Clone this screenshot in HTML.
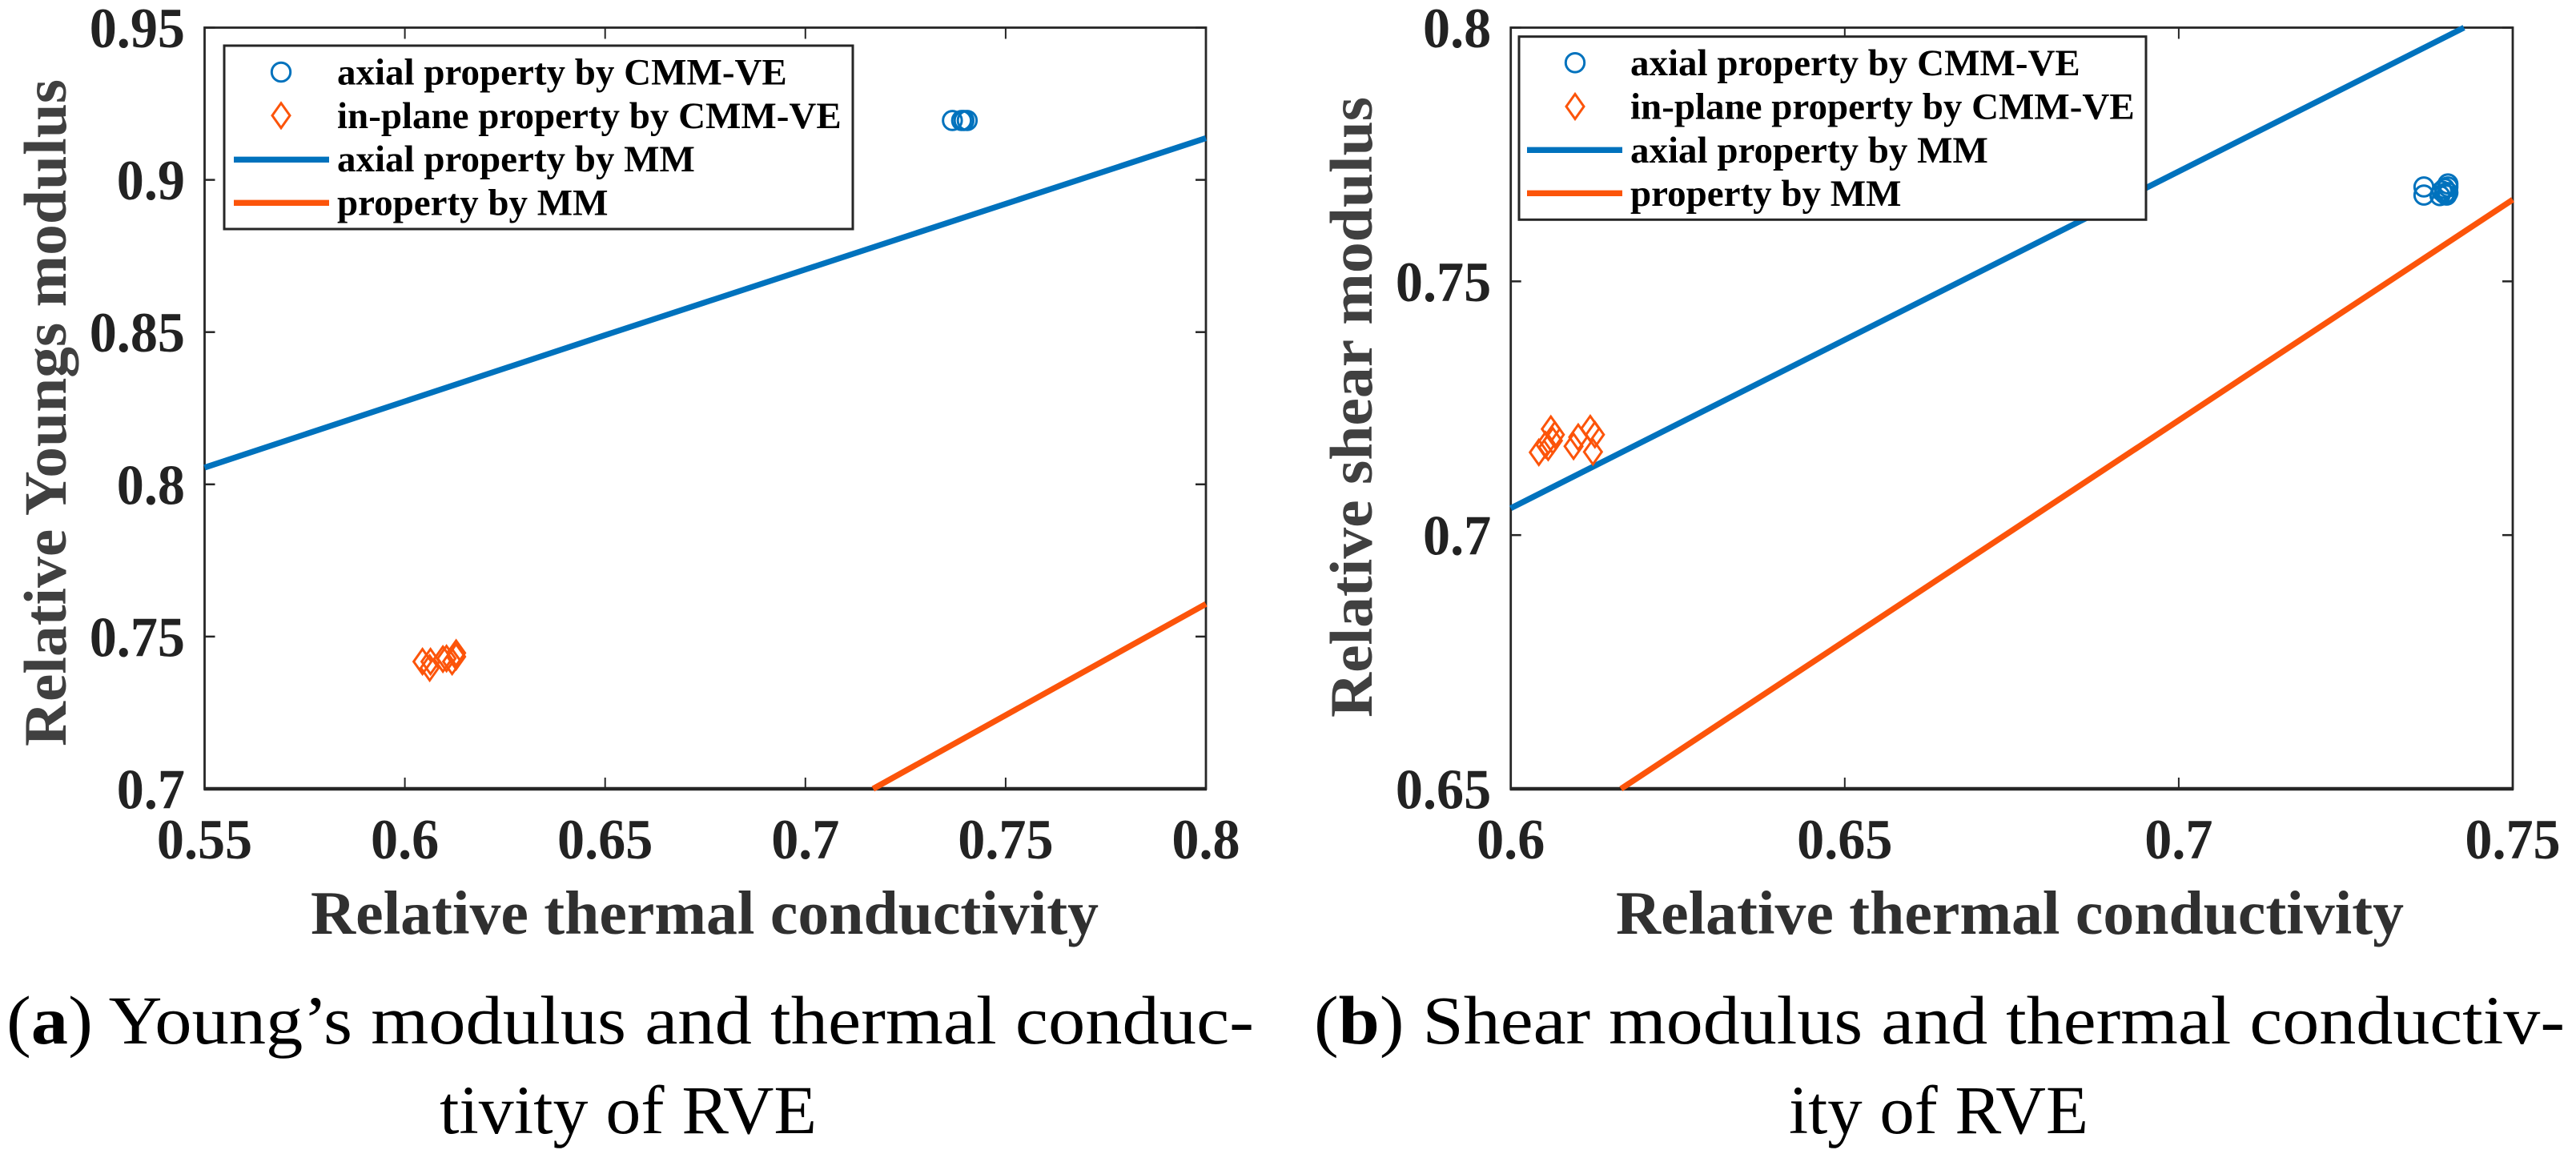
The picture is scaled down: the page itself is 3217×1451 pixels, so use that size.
<!DOCTYPE html>
<html lang="en">
<head>
<meta charset="utf-8">
<title>Relative moduli versus relative thermal conductivity</title>
<style>
  html, body { margin: 0; padding: 0; background: #fff; }
  svg { display: block; }
  text { font-family: "Liberation Serif", serif; }
  .tick-label { font-weight: bold; font-size: 71px; fill: #222222; }
  .axis-title { font-weight: bold; font-size: 77px; fill: #303030; }
  .y-title { font-size: 75px; fill: #404040; }
  .legend-text { font-weight: bold; font-size: 47px; fill: #000; }
  .caption { font-size: 86px; fill: #000; }
</style>
</head>
<body>
<svg id="figure" xmlns="http://www.w3.org/2000/svg" width="3217" height="1451" viewBox="0 0 3217 1451">
  <rect x="0" y="0" width="3217" height="1451" fill="#ffffff"/>
  <g id="panel-a"></g>
  <g id="panel-b"></g>
  <text class="caption" x="8" y="1303" textLength="1558" lengthAdjust="spacingAndGlyphs">(<tspan font-weight="bold">a</tspan>) Young’s modulus and thermal conduc-</text>
  <text class="caption" x="549" y="1415" textLength="471" lengthAdjust="spacingAndGlyphs">tivity of RVE</text>
  <text class="caption" x="1641" y="1303" textLength="1562" lengthAdjust="spacingAndGlyphs">(<tspan font-weight="bold">b</tspan>) Shear modulus and thermal conductiv-</text>
  <text class="caption" x="2234" y="1415" textLength="374" lengthAdjust="spacingAndGlyphs">ity of RVE</text>
</svg>
<script>
// Legend labels
var legendLabels = ['axial property by CMM-VE', 'in-plane property by CMM-VE', 'axial property by MM', 'property by MM'];

// Panel (a) values
var aXTicks = [0.55, 0.6, 0.65, 0.7, 0.75, 0.8];
var aYTicks = [0.7, 0.75, 0.8, 0.85, 0.9, 0.95];
var aXTickLabels = ['0.55', '0.6', '0.65', '0.7', '0.75', '0.8'];
var aYTickLabels = ['0.7', '0.75', '0.8', '0.85', '0.9', '0.95'];
var aAxialMmX = [0.55, 0.65, 0.8];
var aAxialMmY = [0.8055, 0.849, 0.9137];
var aPlaneMmX = [0.7169, 0.8];
var aPlaneMmY = [0.7, 0.7607];
var aAxialVeX = [0.7367, 0.739, 0.7396, 0.7404];
var aAxialVeY = [0.9195, 0.9195, 0.9195, 0.9195];
var aPlaneVeX = [0.6044, 0.6064, 0.6062, 0.6095, 0.6104, 0.6118, 0.6128, 0.6128];
var aPlaneVeY = [0.7418, 0.7418, 0.7397, 0.7426, 0.7428, 0.7418, 0.7446, 0.7434];

// Panel (b) values
var bXTicks = [0.6, 0.65, 0.7, 0.75];
var bYTicks = [0.65, 0.7, 0.75, 0.8];
var bXTickLabels = ['0.6', '0.65', '0.7', '0.75'];
var bYTickLabels = ['0.65', '0.7', '0.75', '0.8'];
var bAxialMmX = [0.6, 0.7427];
var bAxialMmY = [0.7053, 0.8];
var bPlaneMmX = [0.6165, 0.75];
var bPlaneMmY = [0.65, 0.7661];
var bAxialVeX = [0.7367, 0.7367, 0.7391, 0.7394, 0.7398, 0.7403, 0.7403, 0.7401, 0.7398, 0.7403];
var bAxialVeY = [0.7686, 0.767, 0.7669, 0.7678, 0.7683, 0.7692, 0.7675, 0.767, 0.7673, 0.7686];
var bPlaneVeX = [0.6042, 0.6056, 0.6052, 0.606, 0.6066, 0.6063, 0.6094, 0.6101, 0.6119, 0.6126, 0.6123];
var bPlaneVeY = [0.7163, 0.7173, 0.7178, 0.7209, 0.7198, 0.7186, 0.7175, 0.7193, 0.721, 0.7198, 0.7164];

var SVG_NS = 'http://www.w3.org/2000/svg';
var BLUE = '#0072bd';
var ORANGE = '#fc540a';
var DARK = '#262626';

function shape(parent, tag, attrs) {
  var el = document.createElementNS(SVG_NS, tag);
  for (var k in attrs) { el.setAttribute(k, attrs[k]); }
  parent.appendChild(el);
  return el;
}

function linearScale(d0, d1, r0, r1) {
  return function (v) { return r0 + (v - d0) * (r1 - r0) / (d1 - d0); };
}

function circleAt(parent, cx, cy) {
  return shape(parent, 'ellipse', { cx: cx, cy: cy, rx: 11.7, ry: 11.8, fill: 'none', stroke: BLUE, 'stroke-width': 3 });
}

function diamondAt(parent, cx, cy) {
  var pts = [(cx - 11) + ',' + cy, cx + ',' + (cy - 15.5), (cx + 11) + ',' + cy, cx + ',' + (cy + 15.5)].join(' ');
  return shape(parent, 'polygon', { points: pts, fill: 'none', stroke: ORANGE, 'stroke-width': 3 });
}

function narrowTickText(el) {
  el.setAttribute('textLength', el.getComputedTextLength() * 0.96);
  el.setAttribute('lengthAdjust', 'spacingAndGlyphs');
}

function drawPanel(c) {
  var g = document.getElementById(c.id);
  var x = linearScale(c.xMin, c.xMax, c.left, c.right);
  var y = linearScale(c.yMin, c.yMax, c.bottom, c.top);

  // Axes box
  var box = shape(g, 'rect', { x: c.left, y: c.top, width: c.right - c.left, height: c.bottom - c.top, fill: 'none', stroke: DARK, 'stroke-width': 2.8 });
  
  
  var base = shape(g, 'line', { x1: c.left - 1, x2: c.right + 1, y1: c.bottom, y2: c.bottom, stroke: DARK, 'stroke-width': 4.5 });
  
  

  // Ticks and tick labels
  c.xTicks.forEach(function (v, i) {
    var px = x(v);
    var tb = shape(g, 'line', { x1: px, x2: px, y1: c.bottom, y2: c.bottom - 14, stroke: DARK, 'stroke-width': 2 });
    
    
    var tt = shape(g, 'line', { x1: px, x2: px, y1: c.top, y2: c.top + 14, stroke: DARK, 'stroke-width': 2 });
    
    
    var lab = shape(g, 'text', { x: px, y: 1072, 'text-anchor': 'middle', 'class': 'tick-label' });
    
    
    lab.textContent = c.xTickLabels[i];
    narrowTickText(lab);
  });
  c.yTicks.forEach(function (v, i) {
    var py = y(v);
    var tl = shape(g, 'line', { x1: c.left, x2: c.left + 13, y1: py, y2: py, stroke: DARK, 'stroke-width': 2.5 });
    
    
    var tr = shape(g, 'line', { x1: c.right, x2: c.right - 13, y1: py, y2: py, stroke: DARK, 'stroke-width': 2.5 });
    
    
    var lab = shape(g, 'text', { x: c.left - 24.5, y: py + 24.5, 'text-anchor': 'end', 'class': 'tick-label' });
    
    
    lab.textContent = c.yTickLabels[i];
    narrowTickText(lab);
  });

  // Axis titles
  var xt = shape(g, 'text', { x: c.xTitleX, y: 1166, textLength: c.xTitleLen, lengthAdjust: 'spacingAndGlyphs', 'class': 'axis-title' });
  
  
  xt.textContent = 'Relative thermal conductivity';
  var yt = shape(g, 'text', { x: 0, y: 0, textLength: c.yTitleLen, lengthAdjust: 'spacingAndGlyphs', 'class': 'axis-title y-title', transform: 'translate(' + c.yTitleX + ',' + c.yTitleY + ') rotate(-90)' });
  
  
  yt.textContent = c.yTitle;

  // Model lines
  var lineAxial = shape(g, 'polyline', { points: c.axialMmX.map(function (v, i) { return x(v) + ',' + y(c.axialMmY[i]); }).join(' '), fill: 'none', stroke: BLUE, 'stroke-width': 7.3 });
  
  
  var linePlane = shape(g, 'polyline', { points: c.planeMmX.map(function (v, i) { return x(v) + ',' + y(c.planeMmY[i]); }).join(' '), fill: 'none', stroke: ORANGE, 'stroke-width': 7.3 });
  
  

  // Scatter markers
  c.axialVeX.forEach(function (v, i) {
    var m = circleAt(g, x(v), y(c.axialVeY[i]));
    
    
  });
  c.planeVeX.forEach(function (v, i) {
    var m = diamondAt(g, x(v), y(c.planeVeY[i]));
    
    
  });

  // Legend
  var L = c.legend;
  var lg = shape(g, 'g', {});
  
  
  var lbox = shape(lg, 'rect', { x: L.x, y: L.y, width: L.w, height: L.h, fill: '#ffffff', stroke: DARK, 'stroke-width': 3 });
  
  
  var c1 = circleAt(lg, L.markerX, L.circleY);
  
  
  var d1 = diamondAt(lg, L.markerX, L.diamondY);
  
  
  var h1 = shape(lg, 'line', { x1: L.handleX1, x2: L.handleX2, y1: L.blueY, y2: L.blueY, stroke: BLUE, 'stroke-width': 7.3 });
  
  
  var h2 = shape(lg, 'line', { x1: L.handleX1, x2: L.handleX2, y1: L.orangeY, y2: L.orangeY, stroke: ORANGE, 'stroke-width': 7.3 });
  
  
  legendLabels.forEach(function (t, i) {
    var tx = shape(lg, 'text', { x: L.textX, y: L.firstRow + i * L.rowStep, 'class': 'legend-text' });
    
    
    tx.textContent = t;
  });
}

drawPanel({
  id: 'panel-a', left: 255.5, right: 1506, top: 34.5, bottom: 985,
  xMin: 0.55, xMax: 0.8, yMin: 0.7, yMax: 0.95,
  xTicks: aXTicks, yTicks: aYTicks, xTickLabels: aXTickLabels, yTickLabels: aYTickLabels,
  axialMmX: aAxialMmX, axialMmY: aAxialMmY, planeMmX: aPlaneMmX, planeMmY: aPlaneMmY,
  axialVeX: aAxialVeX, axialVeY: aAxialVeY, planeVeX: aPlaneVeX, planeVeY: aPlaneVeY,
  xTitleX: 388, xTitleLen: 984,
  yTitle: 'Relative Youngs modulus', yTitleX: 82, yTitleY: 932, yTitleLen: 833,
  legend: { x: 280, y: 57, w: 785, h: 229, markerX: 351, textX: 421, handleX1: 292, handleX2: 411,
            firstRow: 105.7, rowStep: 54.2, circleY: 90, diamondY: 144.3, blueY: 199.3, orangeY: 253.3 }
});

drawPanel({
  id: 'panel-b', left: 1886.7, right: 3138, top: 34.5, bottom: 985,
  xMin: 0.6, xMax: 0.75, yMin: 0.65, yMax: 0.8,
  xTicks: bXTicks, yTicks: bYTicks, xTickLabels: bXTickLabels, yTickLabels: bYTickLabels,
  axialMmX: bAxialMmX, axialMmY: bAxialMmY, planeMmX: bPlaneMmX, planeMmY: bPlaneMmY,
  axialVeX: bAxialVeX, axialVeY: bAxialVeY, planeVeX: bPlaneVeX, planeVeY: bPlaneVeY,
  xTitleX: 2018, xTitleLen: 984,
  yTitle: 'Relative shear modulus', yTitleX: 1713, yTitleY: 896, yTitleLen: 775,
  legend: { x: 1897, y: 45.7, w: 783, h: 228.6, markerX: 1967, textX: 2036, handleX1: 1907, handleX2: 2026,
            firstRow: 94, rowStep: 54.4, circleY: 78.3, diamondY: 133, blueY: 187.3, orangeY: 241.3 }
});
</script>
</body>
</html>
